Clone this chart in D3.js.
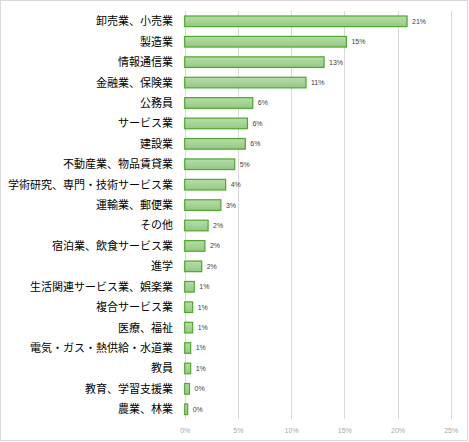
<!DOCTYPE html>
<html>
<head>
<meta charset="utf-8">
<script src="https://cdn.jsdelivr.net/npm/d3@7"></script>
<style>
  body { margin: 0; background: #fff; }
  svg { display: block; }
</style>
</head>
<body>
<div id="vis"></div>
<script>
// categories, top to bottom
var categories = [
  "卸売業、小売業", "製造業", "情報通信業", "金融業、保険業", "公務員",
  "サービス業", "建設業", "不動産業、物品賃貸業", "学術研究、専門・技術サービス業",
  "運輸業、郵便業", "その他", "宿泊業、飲食サービス業", "進学",
  "生活関連サービス業、娯楽業", "複合サービス業", "医療、福祉",
  "電気・ガス・熱供給・水道業", "教員", "教育、学習支援業", "農業、林業"
];
// share in percent
var values = [20.9, 15.2, 13.1, 11.4, 6.4, 5.9, 5.7, 4.7, 3.85, 3.4,
              2.2, 1.9, 1.6, 0.9, 0.75, 0.75, 0.56, 0.56, 0.45, 0.28];
var ticks = [0, 5, 10, 15, 20, 25];

var W = 469, H = 442;
var font = '"Noto Sans CJK JP", "Noto Sans", sans-serif';
var numFont = '"Liberation Sans", Arial, sans-serif';

var svg = d3.select("#vis").append("svg")
    .attr("width", W).attr("height", H);

var defs = svg.append("defs");
var grad = defs.append("linearGradient")
    .attr("id", "barFill").attr("x1", 0).attr("y1", 0).attr("x2", 0).attr("y2", 1);
grad.append("stop").attr("offset", "0%").attr("stop-color", "#b8dcaa");
grad.append("stop").attr("offset", "100%").attr("stop-color", "#93c982");

// outer border
svg.append("rect")
    .attr("x", 0.5).attr("y", 0.5)
    .attr("width", 467).attr("height", 440)
    .attr("fill", "none").attr("stroke", "#d9d9d9");

var x = d3.scaleLinear().domain([0, 25]).range([184.7, 450.7]);
var y = d3.scaleBand().domain(categories).range([11.1, 419.5]).paddingInner(0.48).paddingOuter(0.24);

// grid
svg.append("g").selectAll("line").data(ticks).join("line")
    .attr("x1", d => Math.round(x(d)) + 0.5)
    .attr("x2", d => Math.round(x(d)) + 0.5)
    .attr("y1", 11).attr("y2", 419)
    .attr("stroke", "#d9d9d9").attr("stroke-width", 1);

// x axis labels
var xAxis = d3.axisBottom(x).tickValues(ticks).tickSize(0).tickFormat(d => d + "%");
var gx = svg.append("g").attr("transform", "translate(0,425)").call(xAxis);
gx.select(".domain").remove();
gx.selectAll("text")
    .attr("fill", "#a6a6a6")
    .style("font-family", numFont)
    .style("font-size", "7px");

// y axis labels
var yAxis = d3.axisLeft(y).tickSize(0).tickPadding(0);
var gy = svg.append("g").attr("transform", "translate(173,0)").call(yAxis);
gy.select(".domain").remove();
gy.selectAll("text")
    .attr("fill", "#000")
    .attr("dy", "0.36em")
    .style("font-family", font)
    .style("font-size", "11px");

// bars
svg.append("g").selectAll("rect")
    .data(values).join("rect")
    .attr("x", x(0))
    .attr("y", (d, i) => y(categories[i]))
    .attr("width", d => x(d) - x(0))
    .attr("height", y.bandwidth())
    .attr("fill", "url(#barFill)")
    .attr("stroke", "#4ea72e")
    .attr("stroke-width", 1.2);

// value labels
svg.append("g").selectAll("text")
    .data(values).join("text")
    .attr("x", d => x(d) + 5)
    .attr("y", (d, i) => y(categories[i]) + y.bandwidth() / 2)
    .attr("dy", "0.35em")
    .attr("fill", "#404040")
    .style("font-family", numFont)
    .style("font-size", "7px")
    .text(d => Math.round(d) + "%");
</script>
</body>
</html>
